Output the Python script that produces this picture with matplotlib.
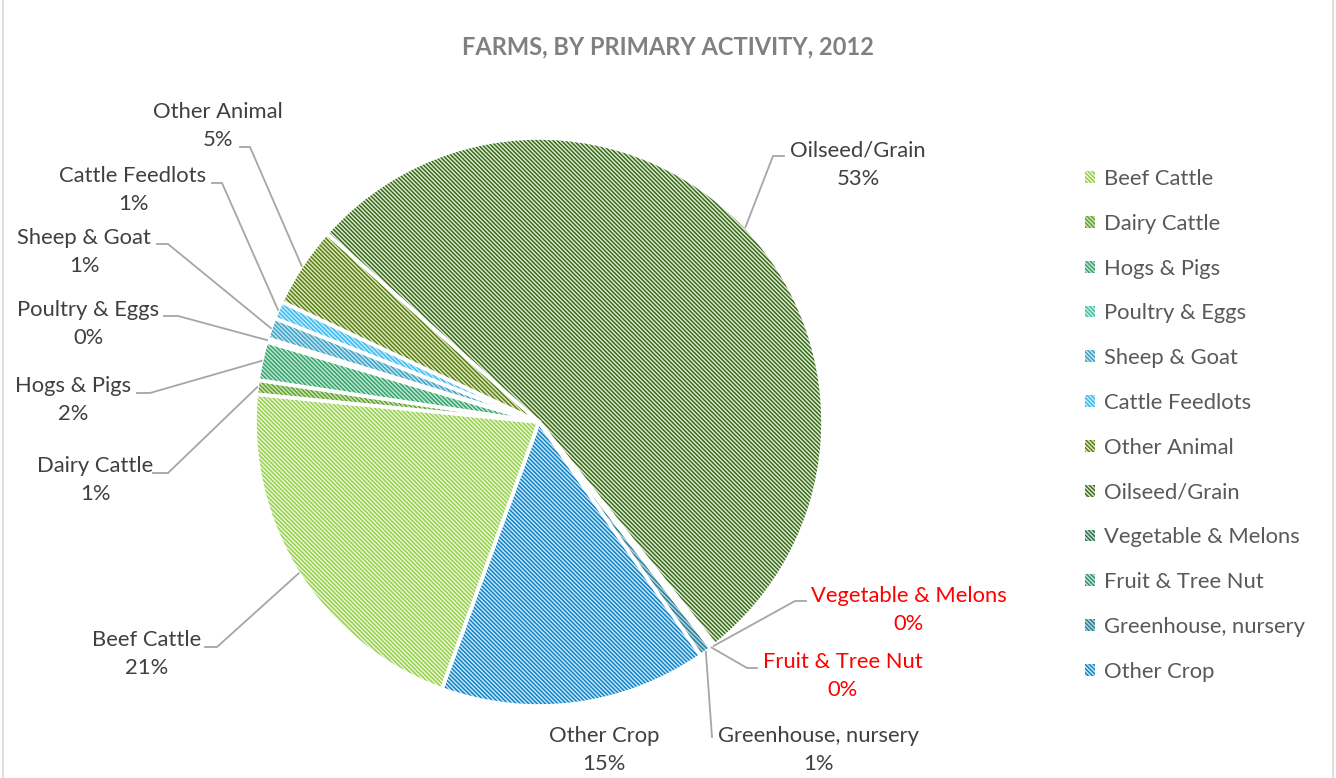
import numpy as np
import matplotlib.pyplot as plt

plt.rcParams['font.family'] = ['Lato', 'DejaVu Sans']
plt.rcParams['hatch.linewidth'] = 1.0

# farms by primary activity, 2012 (share of farms, %)
categories = ["Beef Cattle", "Dairy Cattle", "Hogs & Pigs", "Poultry & Eggs",
              "Sheep & Goat", "Cattle Feedlots", "Other Animal", "Oilseed/Grain",
              "Vegetable & Melons", "Fruit & Tree Nut", "Greenhouse, nursery",
              "Other Crop"]
shares = [21.0, 0.8, 2.2, 0.2, 1.2, 1.0, 4.6, 52.8, 0.2, 0.1, 0.7, 15.2]

fg_colors = ["#92cf45", "#5c9e2c", "#2f9f68", "#3cbf9f", "#3a9fc2", "#33b9f0",
             "#55780f", "#36611a", "#2c6b45", "#2f8a70", "#2a7a92", "#0a7dc2"]
bg_colors = ["#e8f5d6", "#c8e3b2", "#bde5cf", "#c2ede1", "#bde2ee", "#c2eafb",
             "#d9e8bb", "#d6ebc8", "#c0dccb", "#c0e3d8", "#a9d3df", "#c2e6f8"]

W, H = 1336, 778
fig = plt.figure(figsize=(W / 100, H / 100), dpi=100)
ax = fig.add_axes([0, 0, 1, 1])
cx, cy, R = 539, H - 422, 284

wedges, _ = ax.pie(shares, startangle=250, counterclock=False, center=(cx, cy),
                   radius=R, colors=bg_colors, wedgeprops=dict(linewidth=0))
for w, c in zip(wedges, fg_colors):
    w.set_edgecolor(c)
    w.set_hatch("\\" * 8)
    w.set_linewidth(0)

# white separators between slices
ax.pie(shares, startangle=250, counterclock=False, center=(cx, cy), radius=R,
       wedgeprops=dict(fill=False, edgecolor="white", linewidth=2.6))

ax.set_xlim(0, W)
ax.set_ylim(0, H)
ax.set_aspect("equal")
ax.axis("off")

# data label layout (pixel positions, y from top)
label_xy = [(147, 654), (95, 480), (73, 400), (88, 324), (84, 252), (133, 190),
            (218, 126), (858, 165), (909, 610), (843, 676), (818, 750), (604, 750)]
line_start = [(205, 647), (153, 473), (137, 393), (164, 316), (157, 244), (212, 183),
              (240, 147), (784, 156), (806, 601), (757, 668), (712, 737), None]
line_elbow = [(217, 647), (168, 473), (150, 393), (178, 316), (168, 244), (222, 183),
              (250, 147), (773, 156), (795, 601), (747, 668), (712, 737), None]
red_labels = ["Vegetable & Melons", "Fruit & Tree Nut"]

for w, name, v, xy, s, e in zip(wedges, categories, shares, label_xy, line_start, line_elbow):
    col = "#ff0000" if name in red_labels else "#404040"
    ax.text(xy[0], H - xy[1], f"{name}\n{round(v)}%", ha="center", va="center",
            fontsize=15.8, linespacing=1.55, color=col)
    if s is None:
        continue
    mid = np.deg2rad((w.theta1 + w.theta2) / 2)
    rim = (cx + R * np.cos(mid), cy + R * np.sin(mid))
    ax.plot([s[0], e[0], rim[0]], [H - s[1], H - e[1], rim[1]],
            color="#a6a6a6", linewidth=1.3, solid_joinstyle="miter")

leg = ax.legend(wedges, categories, loc="upper left",
                bbox_to_anchor=(1085 / W, 1 - 169 / H), frameon=False,
                fontsize=15.8, handlelength=0.45, handleheight=0.45,
                handletextpad=0.4, labelspacing=1.13, borderpad=0,
                borderaxespad=0, labelcolor="#595959")

fig.text(0.5, 1 - 47 / H, "FARMS, BY PRIMARY ACTIVITY, 2012", ha="center",
         va="center", fontsize=17, fontweight="bold", color="#808080")

# chart border
fig.add_artist(plt.Line2D([3 / W, 3 / W], [0, 1], color="#d9d9d9", linewidth=1.2))
fig.add_artist(plt.Line2D([1333 / W, 1333 / W], [0, 1], color="#d9d9d9", linewidth=1.2))

fig.savefig("out.png", dpi=100)
